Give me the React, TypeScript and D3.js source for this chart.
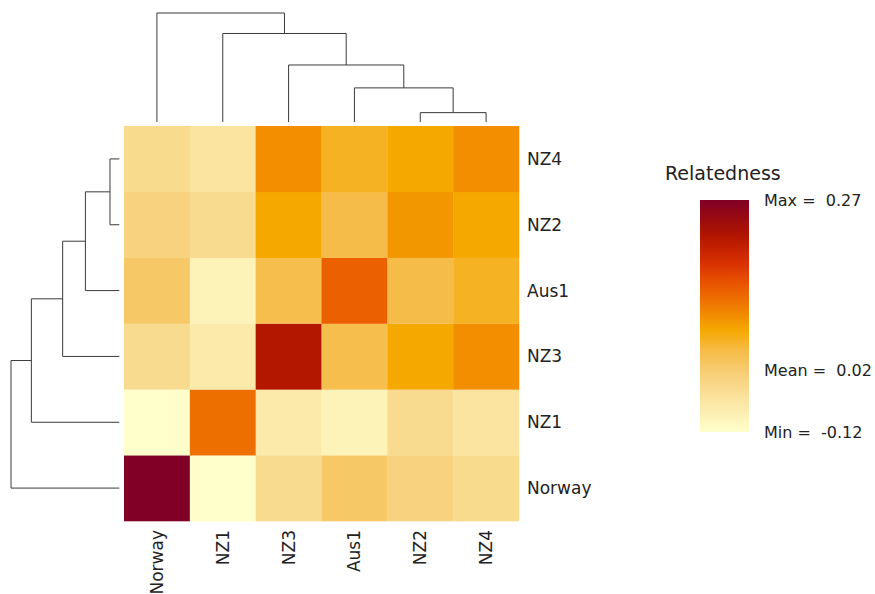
import React from 'react';
import * as d3 from 'd3';

// populations in dendrogram order (columns left->right; rows bottom->top)
const populations = ['Norway', 'NZ1', 'NZ3', 'Aus1', 'NZ2', 'NZ4'];

// pairwise relatedness, one array per population (same order as above)
const norway = [0.27, -0.12, -0.02, 0.028, 0.005, -0.019];
const nz1 = [-0.12, 0.125, -0.062, -0.087, -0.02, -0.045];
const nz3 = [-0.02, -0.062, 0.216, 0.046, 0.08, 0.1];
const aus1 = [0.028, -0.087, 0.046, 0.138, 0.049, 0.065];
const nz2 = [0.005, -0.02, 0.08, 0.049, 0.093, 0.08];
const nz4 = [-0.019, -0.045, 0.1, 0.065, 0.08, 0.1];
const matrix = [norway, nz1, nz3, aus1, nz2, nz4];

// hierarchical merges: [left, right, height]
const merges: [string, string, number][] = [
  ['NZ2', 'NZ4', 0.086],
  ['Aus1', 'm1', 0.313],
  ['NZ3', 'm2', 0.523],
  ['NZ1', 'm3', 0.812],
  ['Norway', 'm4', 1.0],
];

// legend values
const legendLabels = ['Min', 'Mean', 'Max'];
const legendValues = [-0.12, 0.02, 0.27];

// colour ramp along the legend (0 = bottom, 1 = top)
const rampStops = [0, 0.13, 0.25, 0.35, 0.44, 0.55, 0.64, 0.73, 0.85, 1];
const rampColors = ['#FFFFCC', '#FBE6A4', '#F7CF78', '#F6BC48', '#F5A800', '#EF7800', '#E95400', '#D83000', '#B01500', '#800026'];

const W = 875;
const H = 594;
const FONT = 'DejaVu Sans, sans-serif';

const heat = { left: 124, right: 519, top: 126, bottom: 521 };
const bar = { left: 700, right: 749, top: 200, bottom: 432 };

type Seg = { x1: number; y1: number; x2: number; y2: number };

// builds dendrogram segments in (leaf position, height) coordinates
function dendroSegments(pos: (name: string) => number) {
  const nodes: Record<string, { p: number; h: number }> = {};
  populations.forEach(n => { nodes[n] = { p: pos(n), h: 0 }; });
  const segs: { p1: number; h1: number; p2: number; h2: number }[] = [];
  merges.forEach(([a, b, h], i) => {
    const A = nodes[a];
    const B = nodes[b];
    segs.push({ p1: A.p, h1: A.h, p2: A.p, h2: h });
    segs.push({ p1: B.p, h1: B.h, p2: B.p, h2: h });
    segs.push({ p1: A.p, h1: h, p2: B.p, h2: h });
    nodes[`m${i + 1}`] = { p: (A.p + B.p) / 2, h };
  });
  return segs;
}

export default function App() {
  const x = d3.scaleBand().domain(populations).range([heat.left, heat.right]);
  const y = d3.scaleBand().domain([...populations].reverse()).range([heat.top, heat.bottom]);

  const tScale = d3.scaleLinear().domain(legendValues).range([0, 0.263, 1]).clamp(true);
  const ramp = d3.scaleLinear<string>().domain(rampStops).range(rampColors).interpolate(d3.interpolateRgb);
  const color = (v: number) => ramp(tScale(v));

  const maxH = d3.max(merges, d => d[2]) as number;
  const colH = d3.scaleLinear().domain([0, maxH]).range([122, 13]);
  const rowH = d3.scaleLinear().domain([0, maxH]).range([119.3, 11]);
  const legendY = d3.scaleLinear().domain([0, 1]).range([bar.bottom, bar.top]);

  const colSegs: Seg[] = dendroSegments(n => (x(n) as number) + x.bandwidth() / 2).map(s => ({
    x1: s.p1, y1: colH(s.h1), x2: s.p2, y2: colH(s.h2),
  }));
  const rowSegs: Seg[] = dendroSegments(n => (y(n) as number) + y.bandwidth() / 2).map(s => ({
    x1: rowH(s.h1), y1: s.p1, x2: rowH(s.h2), y2: s.p2,
  }));

  return (
    <div style={{ position: 'absolute', left: 0, top: 0 }}>
      <svg width={W} height={H} style={{ display: 'block', background: '#fff' }}>
        <defs>
          <linearGradient id="legendGrad" x1="0" x2="0" y1="1" y2="0">
            {rampStops.map((s, i) => (
              <stop key={i} offset={`${s * 100}%`} stopColor={rampColors[i]} />
            ))}
          </linearGradient>
        </defs>

        {/* cells */}
        {matrix.map((row, ri) =>
          row.map((v, ci) => (
            <rect
              key={`${ri}-${ci}`}
              x={x(populations[ci])}
              y={y(populations[ri])}
              width={x.bandwidth() + 0.3}
              height={y.bandwidth() + 0.3}
              fill={color(v)}
            />
          ))
        )}

        {/* dendrograms */}
        <g stroke="#3a3a3a" strokeWidth={1} fill="none">
          {colSegs.map((s, i) => <line key={`c${i}`} x1={s.x1} y1={s.y1} x2={s.x2} y2={s.y2} />)}
          {rowSegs.map((s, i) => <line key={`r${i}`} x1={s.x1} y1={s.y1} x2={s.x2} y2={s.y2} />)}
        </g>

        {/* row labels */}
        <g fontFamily={FONT} fontSize={17} fill="#222">
          {populations.map(n => (
            <text key={n} x={heat.right + 8} y={(y(n) as number) + y.bandwidth() / 2} dominantBaseline="central">
              {n}
            </text>
          ))}
        </g>

        {/* column labels */}
        <g fontFamily={FONT} fontSize={17} fill="#222">
          {populations.map(n => {
            const cx = (x(n) as number) + x.bandwidth() / 2;
            const cy = heat.bottom + 9;
            return (
              <text
                key={n}
                transform={`translate(${cx},${cy}) rotate(-90)`}
                textAnchor="end"
                dominantBaseline="central"
              >
                {n}
              </text>
            );
          })}
        </g>

        {/* legend */}
        <text x={665} y={180} fontFamily={FONT} fontSize={19} fill="#222">Relatedness</text>
        <rect x={bar.left} y={bar.top} width={bar.right - bar.left} height={bar.bottom - bar.top} fill="url(#legendGrad)" />
        <g fontFamily={FONT} fontSize={16} fill="#222">
          {legendValues.map((v, i) => (
            <text
              key={legendLabels[i]}
              x={764}
              y={legendY(tScale(v))}
              dominantBaseline="central"
              style={{ whiteSpace: 'pre' }}
            >
              {`${legendLabels[i]} =  ${v.toFixed(2)}`}
            </text>
          ))}
        </g>
      </svg>
    </div>
  );
}
